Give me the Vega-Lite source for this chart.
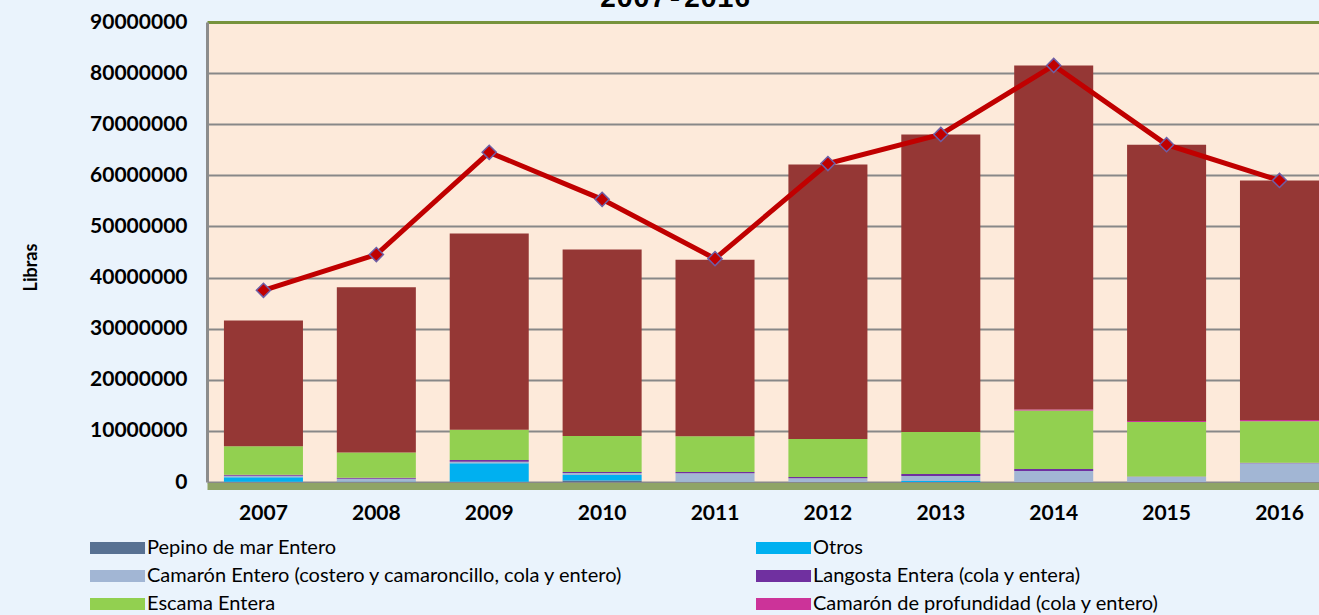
{
  "$schema": "https://vega.github.io/schema/vega-lite/v6.json",
  "width": 1112,
  "height": 460,
  "autosize": {"type": "none"},
  "padding": {"left": 207, "top": 22, "right": 0, "bottom": 133},
  "background": "#EAF3FC",
  "title": {"text": "2007-2016", "font": "Liberation Mono", "fontSize": 28, "fontWeight": "bold", "color": "#000000", "anchor": "middle", "frame": "group", "dx": -88, "dy": 24, "baseline": "alphabetic", "offset": 0},
  "datasets": {
    "exportaciones": [
      {"anio": "2007", "categoria": "Pepino de mar Entero", "libras": 50000},
      {"anio": "2007", "categoria": "Otros", "libras": 900000},
      {"anio": "2007", "categoria": "Camarón Entero (costero y camaroncillo, cola y entero)", "libras": 250000},
      {"anio": "2007", "categoria": "Langosta Entera (cola y entera)", "libras": 200000},
      {"anio": "2007", "categoria": "Escama Entera", "libras": 5600000},
      {"anio": "2007", "categoria": "Camarón de profundidad (cola y entero)", "libras": 0},
      {"anio": "2007", "categoria": "Camarón de cultivo", "libras": 24600000},
      {"anio": "2008", "categoria": "Pepino de mar Entero", "libras": 50000},
      {"anio": "2008", "categoria": "Otros", "libras": 50000},
      {"anio": "2008", "categoria": "Camarón Entero (costero y camaroncillo, cola y entero)", "libras": 550000},
      {"anio": "2008", "categoria": "Langosta Entera (cola y entera)", "libras": 200000},
      {"anio": "2008", "categoria": "Escama Entera", "libras": 4900000},
      {"anio": "2008", "categoria": "Camarón de profundidad (cola y entero)", "libras": 0},
      {"anio": "2008", "categoria": "Camarón de cultivo", "libras": 32350000},
      {"anio": "2009", "categoria": "Pepino de mar Entero", "libras": 50000},
      {"anio": "2009", "categoria": "Otros", "libras": 3600000},
      {"anio": "2009", "categoria": "Camarón Entero (costero y camaroncillo, cola y entero)", "libras": 300000},
      {"anio": "2009", "categoria": "Langosta Entera (cola y entera)", "libras": 350000},
      {"anio": "2009", "categoria": "Escama Entera", "libras": 5900000},
      {"anio": "2009", "categoria": "Camarón de profundidad (cola y entero)", "libras": 0},
      {"anio": "2009", "categoria": "Camarón de cultivo", "libras": 38400000},
      {"anio": "2010", "categoria": "Pepino de mar Entero", "libras": 300000},
      {"anio": "2010", "categoria": "Otros", "libras": 1070000},
      {"anio": "2010", "categoria": "Camarón Entero (costero y camaroncillo, cola y entero)", "libras": 400000},
      {"anio": "2010", "categoria": "Langosta Entera (cola y entera)", "libras": 200000},
      {"anio": "2010", "categoria": "Escama Entera", "libras": 7040000},
      {"anio": "2010", "categoria": "Camarón de profundidad (cola y entero)", "libras": 0},
      {"anio": "2010", "categoria": "Camarón de cultivo", "libras": 36500000},
      {"anio": "2011", "categoria": "Pepino de mar Entero", "libras": 0},
      {"anio": "2011", "categoria": "Otros", "libras": 50000},
      {"anio": "2011", "categoria": "Camarón Entero (costero y camaroncillo, cola y entero)", "libras": 1650000},
      {"anio": "2011", "categoria": "Langosta Entera (cola y entera)", "libras": 260000},
      {"anio": "2011", "categoria": "Escama Entera", "libras": 6980000},
      {"anio": "2011", "categoria": "Camarón de profundidad (cola y entero)", "libras": 0},
      {"anio": "2011", "categoria": "Camarón de cultivo", "libras": 34560000},
      {"anio": "2012", "categoria": "Pepino de mar Entero", "libras": 0},
      {"anio": "2012", "categoria": "Otros", "libras": 0},
      {"anio": "2012", "categoria": "Camarón Entero (costero y camaroncillo, cola y entero)", "libras": 720000},
      {"anio": "2012", "categoria": "Langosta Entera (cola y entera)", "libras": 260000},
      {"anio": "2012", "categoria": "Escama Entera", "libras": 7430000},
      {"anio": "2012", "categoria": "Camarón de profundidad (cola y entero)", "libras": 0},
      {"anio": "2012", "categoria": "Camarón de cultivo", "libras": 53700000},
      {"anio": "2013", "categoria": "Pepino de mar Entero", "libras": 0},
      {"anio": "2013", "categoria": "Otros", "libras": 200000},
      {"anio": "2013", "categoria": "Camarón Entero (costero y camaroncillo, cola y entero)", "libras": 970000},
      {"anio": "2013", "categoria": "Langosta Entera (cola y entera)", "libras": 400000},
      {"anio": "2013", "categoria": "Escama Entera", "libras": 8210000},
      {"anio": "2013", "categoria": "Camarón de profundidad (cola y entero)", "libras": 0},
      {"anio": "2013", "categoria": "Camarón de cultivo", "libras": 58200000},
      {"anio": "2014", "categoria": "Pepino de mar Entero", "libras": 0},
      {"anio": "2014", "categoria": "Otros", "libras": 0},
      {"anio": "2014", "categoria": "Camarón Entero (costero y camaroncillo, cola y entero)", "libras": 2150000},
      {"anio": "2014", "categoria": "Langosta Entera (cola y entera)", "libras": 390000},
      {"anio": "2014", "categoria": "Escama Entera", "libras": 11460000},
      {"anio": "2014", "categoria": "Camarón de profundidad (cola y entero)", "libras": 200000},
      {"anio": "2014", "categoria": "Camarón de cultivo", "libras": 67300000},
      {"anio": "2015", "categoria": "Pepino de mar Entero", "libras": 0},
      {"anio": "2015", "categoria": "Otros", "libras": 0},
      {"anio": "2015", "categoria": "Camarón Entero (costero y camaroncillo, cola y entero)", "libras": 1040000},
      {"anio": "2015", "categoria": "Langosta Entera (cola y entera)", "libras": 50000},
      {"anio": "2015", "categoria": "Escama Entera", "libras": 10650000},
      {"anio": "2015", "categoria": "Camarón de profundidad (cola y entero)", "libras": 200000},
      {"anio": "2015", "categoria": "Camarón de cultivo", "libras": 54060000},
      {"anio": "2016", "categoria": "Pepino de mar Entero", "libras": 0},
      {"anio": "2016", "categoria": "Otros", "libras": 0},
      {"anio": "2016", "categoria": "Camarón Entero (costero y camaroncillo, cola y entero)", "libras": 3650000},
      {"anio": "2016", "categoria": "Langosta Entera (cola y entera)", "libras": 100000},
      {"anio": "2016", "categoria": "Escama Entera", "libras": 8160000},
      {"anio": "2016", "categoria": "Camarón de profundidad (cola y entero)", "libras": 200000},
      {"anio": "2016", "categoria": "Camarón de cultivo", "libras": 46870000}
    ],
    "total": [
      {"anio": "2007", "libras": 37500000},
      {"anio": "2008", "libras": 44500000},
      {"anio": "2009", "libras": 64500000},
      {"anio": "2010", "libras": 55300000},
      {"anio": "2011", "libras": 43700000},
      {"anio": "2012", "libras": 62300000},
      {"anio": "2013", "libras": 68000000},
      {"anio": "2014", "libras": 81500000},
      {"anio": "2015", "libras": 66000000},
      {"anio": "2016", "libras": 59000000}
    ]
  },
  "layer": [
    {
      "data": {"name": "exportaciones"},
      "transform": [
        {"calculate": "indexof(['Pepino de mar Entero','Otros','Camarón Entero (costero y camaroncillo, cola y entero)','Langosta Entera (cola y entera)','Escama Entera','Camarón de profundidad (cola y entero)','Camarón de cultivo'], datum.categoria)", "as": "orden"}
      ],
      "mark": {"type": "bar"},
      "encoding": {
        "x": {
          "field": "anio", "type": "ordinal",
          "scale": {"paddingInner": 0.3, "paddingOuter": 0.075, "align": 1},
          "axis": {"title": null, "labelAngle": 0, "labelFont": "Lato", "labelFontSize": 21, "labelFontWeight": "bold", "labelColor": "#000000", "ticks": false, "domainColor": "#8FA466", "domainWidth": 7, "offset": 4, "labelPadding": 16}
        },
        "y": {
          "field": "libras", "type": "quantitative", "stack": "zero",
          "scale": {"domain": [0, 90000000], "nice": false},
          "axis": {
            "values": [0, 10000000, 20000000, 30000000, 40000000, 50000000, 60000000, 70000000, 80000000, 90000000],
            "format": "d",
            "labelFont": "Lato", "labelFontSize": 21, "labelFontWeight": "bold", "labelColor": "#000000",
            "labelPadding": 20, "ticks": false,
            "domainColor": "#8C8C8C", "domainWidth": 3,
            "grid": true,
            "gridColor": {"condition": {"test": "datum.value >= 90000000", "value": "#77933C"}, "value": "#888888"},
            "gridWidth": {"condition": {"test": "datum.value >= 90000000", "value": 3}, "value": 2},
            "title": "Libras", "titleFont": "Lato", "titleFontSize": 18, "titleFontWeight": "bold", "titleColor": "#000000",
            "titleX": -176, "titleY": 245, "titleBaseline": "middle"
          }
        },
        "color": {
          "field": "categoria", "type": "nominal",
          "scale": {
            "domain": ["Pepino de mar Entero", "Otros", "Camarón Entero (costero y camaroncillo, cola y entero)", "Langosta Entera (cola y entera)", "Escama Entera", "Camarón de profundidad (cola y entero)", "Camarón de cultivo"],
            "range": ["#587192", "#00B0F0", "#A2B6D4", "#7030A0", "#92D050", "#CC3399", "#953735"]
          },
          "legend": {
            "values": ["Pepino de mar Entero", "Camarón Entero (costero y camaroncillo, cola y entero)", "Escama Entera", "Otros", "Langosta Entera (cola y entera)", "Camarón de profundidad (cola y entero)"],
            "orient": "none", "legendX": -121, "legendY": 516,
            "columns": 2, "columnPadding": 128, "rowPadding": 8,
            "symbolType": "M-1,-1H8.17V1H-1Z", "symbolSize": 144, "symbolStrokeWidth": 0,
            "labelFont": "Lato", "labelFontSize": 20, "labelColor": "#000000", "labelOffset": 41, "labelLimit": 0,
            "title": null
          }
        },
        "order": {"field": "orden", "type": "quantitative"}
      }
    },
    {
      "data": {"name": "total"},
      "mark": {"type": "line", "color": "#C00000", "strokeWidth": 5},
      "encoding": {
        "x": {"field": "anio", "type": "ordinal"},
        "y": {"field": "libras", "type": "quantitative"}
      }
    },
    {
      "data": {"name": "total"},
      "mark": {"type": "point", "shape": "diamond", "filled": true, "fill": "#C00000", "stroke": "#6E5FA6", "strokeWidth": 1.5, "size": 200, "opacity": 1},
      "encoding": {
        "x": {"field": "anio", "type": "ordinal"},
        "y": {"field": "libras", "type": "quantitative"}
      }
    }
  ],
  "config": {
    "view": {"fill": "#FDEADA", "stroke": null}
  }
}
